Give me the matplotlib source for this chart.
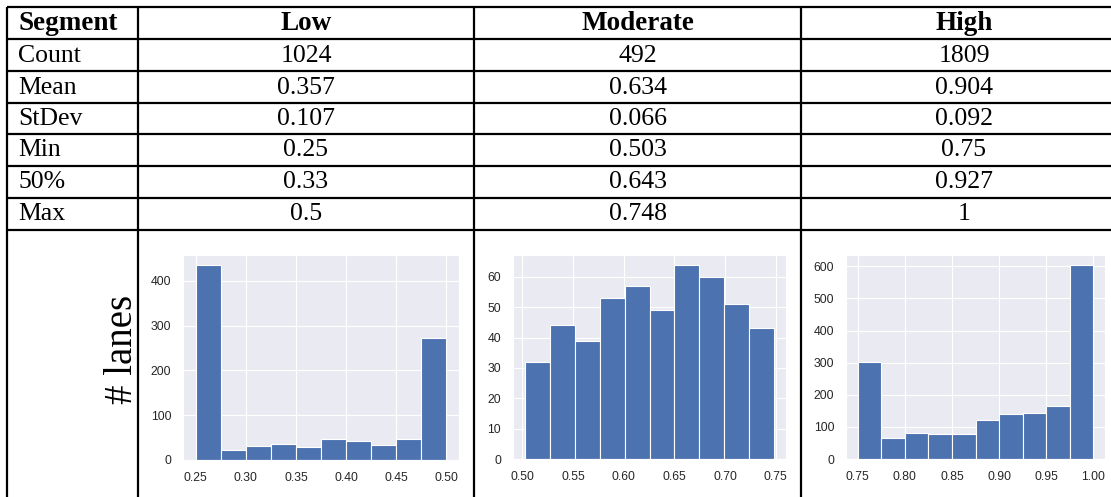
import matplotlib.pyplot as plt
import numpy as np
import seaborn as sns
from matplotlib.ticker import FormatStrFormatter, MultipleLocator

SEGMENTS = ["Low", "Moderate", "High"]
STAT_NAMES = ["Count", "Mean", "StDev", "Min", "50%", "Max"]
COUNT = [1024, 492, 1809]
MEAN = [0.357, 0.634, 0.904]
STDEV = [0.107, 0.066, 0.092]
MINIMUM = [0.25, 0.503, 0.75]
MEDIAN = [0.33, 0.643, 0.927]
MAXIMUM = [0.5, 0.748, 1]

# lanes per bin, 10 equal bins between each segment's min and max
LOW_COUNTS = [436, 22, 31, 35, 29, 47, 42, 33, 47, 273]
MODERATE_COUNTS = [32, 44, 39, 53, 57, 49, 64, 60, 51, 43]
HIGH_COUNTS = [301, 66, 80, 77, 77, 123, 140, 142, 166, 605]

TICK_STEP = [100, 10, 100]

W, H = 1111, 497
COL_X = [7, 138, 474, 801, 1127]
ROW_Y = [7, 39, 71, 103, 134, 166, 198, 230]
HIST_BOXES = [(183, 459, 255, 460), (513, 786, 255, 459), (846, 1105, 255, 459)]

sns.set_style("darkgrid")
plt.rcParams["font.family"] = ["Liberation Sans", "DejaVu Sans"]

fig = plt.figure(figsize=(W / 100, H / 100), dpi=100)

# table grid and text drawn in pixel coordinates
tab = fig.add_axes([0, 0, 1, 1])
tab.set_xlim(0, W)
tab.set_ylim(H, 0)
tab.axis("off")

line_kw = dict(color="black", lw=1.6, solid_capstyle="butt")
for y in ROW_Y:
    tab.plot([COL_X[0], W], [y, y], **line_kw)
for x in COL_X[:4]:
    tab.plot([x, x], [ROW_Y[0], H], **line_kw)

serif = ["Liberation Serif", "DejaVu Serif"]
text_kw = dict(family=serif, color="black", va="center")

header_y = (ROW_Y[0] + ROW_Y[1]) / 2 + 0.5
tab.text(18, header_y, "Segment", ha="left", weight="bold", fontsize=19.5, **text_kw)
for i, seg in enumerate(SEGMENTS):
    cx = (COL_X[i + 1] + COL_X[i + 2]) / 2
    tab.text(cx, header_y, seg, ha="center", weight="bold", fontsize=19.5, **text_kw)

stats = [COUNT, MEAN, STDEV, MINIMUM, MEDIAN, MAXIMUM]
for r, (name, values) in enumerate(zip(STAT_NAMES, stats)):
    cy = (ROW_Y[r + 1] + ROW_Y[r + 2]) / 2 + 0.5
    tab.text(18, cy, name, ha="left", fontsize=18.5, **text_kw)
    for i, v in enumerate(values):
        cx = (COL_X[i + 1] + COL_X[i + 2]) / 2
        tab.text(cx, cy, str(v), ha="center", fontsize=18.5, **text_kw)

tab.text(123, 349, "# lanes", family=serif, fontsize=28, rotation=90,
         ha="center", va="center", color="black")

# one histogram per segment
all_counts = [LOW_COUNTS, MODERATE_COUNTS, HIGH_COUNTS]
for i, counts in enumerate(all_counts):
    left, right, top, bottom = HIST_BOXES[i]
    ax = fig.add_axes([left / W, (H - bottom) / H,
                       (right - left) / W, (bottom - top) / H])
    edges = np.linspace(MINIMUM[i], MAXIMUM[i], len(counts) + 1)
    centers = (edges[:-1] + edges[1:]) / 2
    ax.hist(centers, bins=edges, weights=counts, color="#4C72B0",
            edgecolor="white", linewidth=0.8)
    ax.xaxis.set_major_locator(MultipleLocator(0.05))
    ax.xaxis.set_major_formatter(FormatStrFormatter("%.2f"))
    ax.yaxis.set_major_locator(MultipleLocator(TICK_STEP[i]))
    ax.tick_params(labelsize=8.8, colors="#262626", pad=5)

fig.savefig("out.png", dpi=100)
